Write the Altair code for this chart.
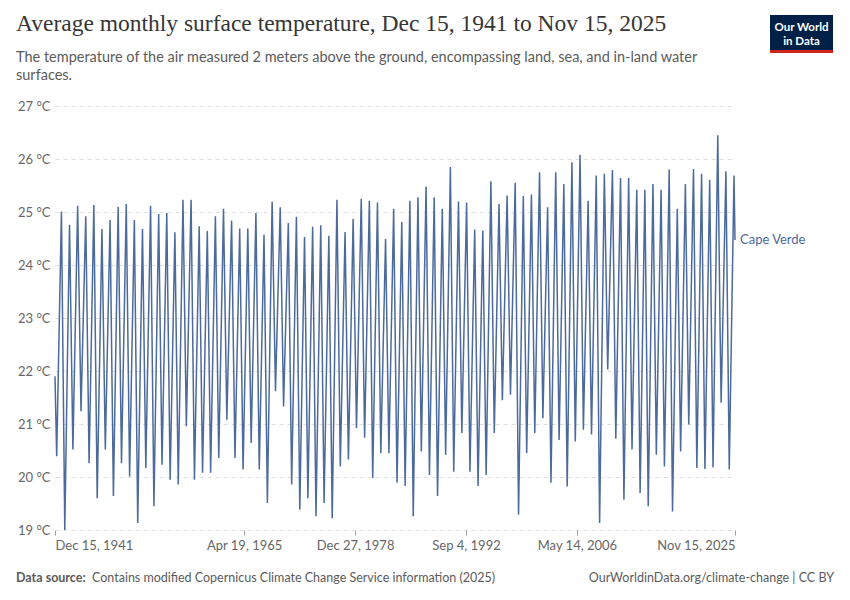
import altair as alt
import pandas as pd

# ---------------- data ----------------
years = list(range(1942, 2026))

# yearly low (late winter) in °C
trough_c = [
    20.39, 19.00, 20.52, 21.24, 20.26, 19.60, 20.52, 19.64, 20.26, 20.01,
    19.13, 20.17, 19.45, 20.23, 19.95, 19.86, 20.96, 19.95, 20.08, 20.08,
    20.36, 21.08, 20.36, 20.14, 20.64, 20.14, 19.51, 21.62, 21.33, 19.86,
    19.38, 19.60, 19.26, 19.51, 19.22, 20.20, 20.33, 20.92, 20.74, 19.98,
    20.45, 20.45, 19.89, 19.83, 19.26, 20.48, 20.04, 19.64, 20.42, 20.10,
    20.83, 20.10, 19.83, 20.04, 20.83, 21.45, 21.55, 19.29, 20.45, 20.83,
    21.11, 19.89, 20.70, 19.82, 20.67, 20.89, 20.80, 19.13, 22.03, 20.72,
    19.57, 20.52, 19.70, 19.45, 20.42, 20.20, 19.35, 20.48, 20.99, 20.17,
    20.15, 20.18, 21.40, 20.14,
]

# yearly high (early autumn) in °C
peak_c = [
    25.01, 24.76, 25.12, 24.92, 25.13, 24.68, 24.85, 25.10, 25.15, 24.85,
    24.68, 25.12, 24.96, 24.98, 24.62, 25.23, 25.23, 24.73, 24.64, 24.92,
    25.06, 24.84, 24.69, 24.69, 24.98, 24.57, 25.20, 25.09, 24.79, 24.91,
    24.53, 24.72, 24.75, 24.55, 25.23, 24.62, 24.87, 25.25, 25.21, 25.18,
    24.49, 25.06, 24.81, 25.21, 25.28, 25.48, 25.28, 25.06, 25.85, 25.20,
    25.18, 24.67, 24.65, 25.58, 25.15, 25.31, 25.55, 25.30, 25.33, 25.75,
    25.09, 25.75, 25.53, 25.94, 26.08, 25.21, 25.69, 25.72, 25.79, 25.64,
    25.64, 25.42, 25.42, 25.53, 25.42, 25.80, 25.06, 25.53, 25.81, 25.72,
    25.61, 26.45, 25.77, 25.69,
]

# other individual readings (first/last month, visible shoulders)
extra_dates = ["1941-12-15", "2024-01-15", "2025-11-15"]
extra_vals = [21.9, 22.7, 24.47]

x_tick_dates = [(1941, 12, 15), (1965, 4, 19), (1978, 12, 27),
                (1992, 9, 4), (2006, 5, 14), (2025, 11, 15)]
y_ticks = [19, 20, 21, 22, 23, 24, 25, 26, 27]

country = "Cape Verde"
title_text = "Average monthly surface temperature, Dec 15, 1941 to Nov 15, 2025"
subtitle_lines = [
    "The temperature of the air measured 2 meters above the ground, encompassing land, sea, and in-land water",
    "surfaces.",
]
source_bold = "Data source:"
source_text = "Contains modified Copernicus Climate Change Service information (2025)"
right_footer = "OurWorldinData.org/climate-change | CC BY"

# ---------------- build table ----------------
rows = []
for y, t, p in zip(years, trough_c, peak_c):
    rows.append((f"{y}-03-01", t))
    rows.append((f"{y}-10-01", p))
rows += list(zip(extra_dates, extra_vals))
df = pd.DataFrame(rows, columns=["date", "temp"]).sort_values("date").reset_index(drop=True)
df_last = df.tail(1)

BLUE = "#4c6a9c"
GREY = "#666666"
FONT = "Lato"

x_enc = alt.X(
    "date:T",
    title=None,
    scale=alt.Scale(
        type="utc",
        domain=[alt.DateTime(year=1941, month=12, date=15, utc=True),
                alt.DateTime(year=2025, month=11, date=15, utc=True)],
    ),
    axis=alt.Axis(
        values=[alt.DateTime(year=a, month=b, date=c, utc=True) for a, b, c in x_tick_dates],
        labelExpr="utcFormat(datum.value, '%b %-d, %Y')",
        labelFlush=True,
        labelFont=FONT,
        labelFontSize=13,
        labelColor=GREY,
        labelPadding=4,
        grid=False,
        domain=False,
        ticks=True,
        tickSize=5,
        tickColor="#a0a0a0",
    ),
)
y_enc = alt.Y(
    "temp:Q",
    title=None,
    scale=alt.Scale(domain=[19, 27], nice=False, zero=False),
    axis=alt.Axis(
        values=y_ticks,
        labelExpr="datum.value + ' °C'",
        labelFont=FONT,
        labelFontSize=13,
        labelColor=GREY,
        labelPadding=5,
        domain=False,
        ticks=False,
        grid=True,
        gridColor="#dddddd",
        gridDash=[4, 4],
        gridWidth=1,
    ),
)

line = alt.Chart(df).mark_line(color=BLUE, strokeWidth=1.5).encode(x=x_enc, y=y_enc)
label = alt.Chart(df_last).mark_text(
    align="left", baseline="middle", dx=5, color=BLUE, font=FONT, fontSize=13
).encode(x=x_enc, y=y_enc, text=alt.value(country))

one = pd.DataFrame({"k": [0]})


def txt(s, x, y, **kw):
    return alt.Chart(one).mark_text(align=kw.pop("align", "left"), baseline="alphabetic", **kw).encode(
        x=alt.value(x), y=alt.value(y), text=alt.value(s)
    )


title = txt(title_text, -39, -75, font="Liberation Serif", fontSize=23.5, color="#363636")
sub1 = txt(subtitle_lines[0], -39, -44, font=FONT, fontSize=14.5, color="#5b5b5b")
sub2 = txt(subtitle_lines[1], -39, -26, font=FONT, fontSize=14.5, color="#5b5b5b")
foot1 = txt(source_bold, -39, 476, font=FONT, fontSize=12.5, fontWeight="bold", color="#5b5b5b")
foot2 = txt(source_text, 37, 476, font=FONT, fontSize=12.5, color="#5b5b5b")
foot3 = txt(right_footer, 779, 476, align="right", font=FONT, fontSize=12.5, color="#5b5b5b")

logo_bg = alt.Chart(one).mark_rect(color="#002147").encode(
    x=alt.value(715), x2=alt.value(778), y=alt.value(-91), y2=alt.value(-56)
)
logo_bar = alt.Chart(one).mark_rect(color="#ce261e").encode(
    x=alt.value(715), x2=alt.value(778), y=alt.value(-56), y2=alt.value(-53)
)
logo1 = txt("Our World", 746.5, -75, align="center", font=FONT, fontSize=11.5, fontWeight="bold", color="white")
logo2 = txt("in Data", 746.5, -61, align="center", font=FONT, fontSize=11.5, fontWeight="bold", color="white")

chart = alt.layer(
    line, label, title, sub1, sub2, foot1, foot2, foot3, logo_bg, logo_bar, logo1, logo2
).properties(
    width=680,
    height=424,
    autosize=alt.AutoSizeParams(type="none"),
    padding={"left": 47, "top": 98, "right": 105, "bottom": 70},
    background="white",
).configure_view(stroke=None)

chart.save("out.html", embed_options={"renderer": "svg", "actions": False})
